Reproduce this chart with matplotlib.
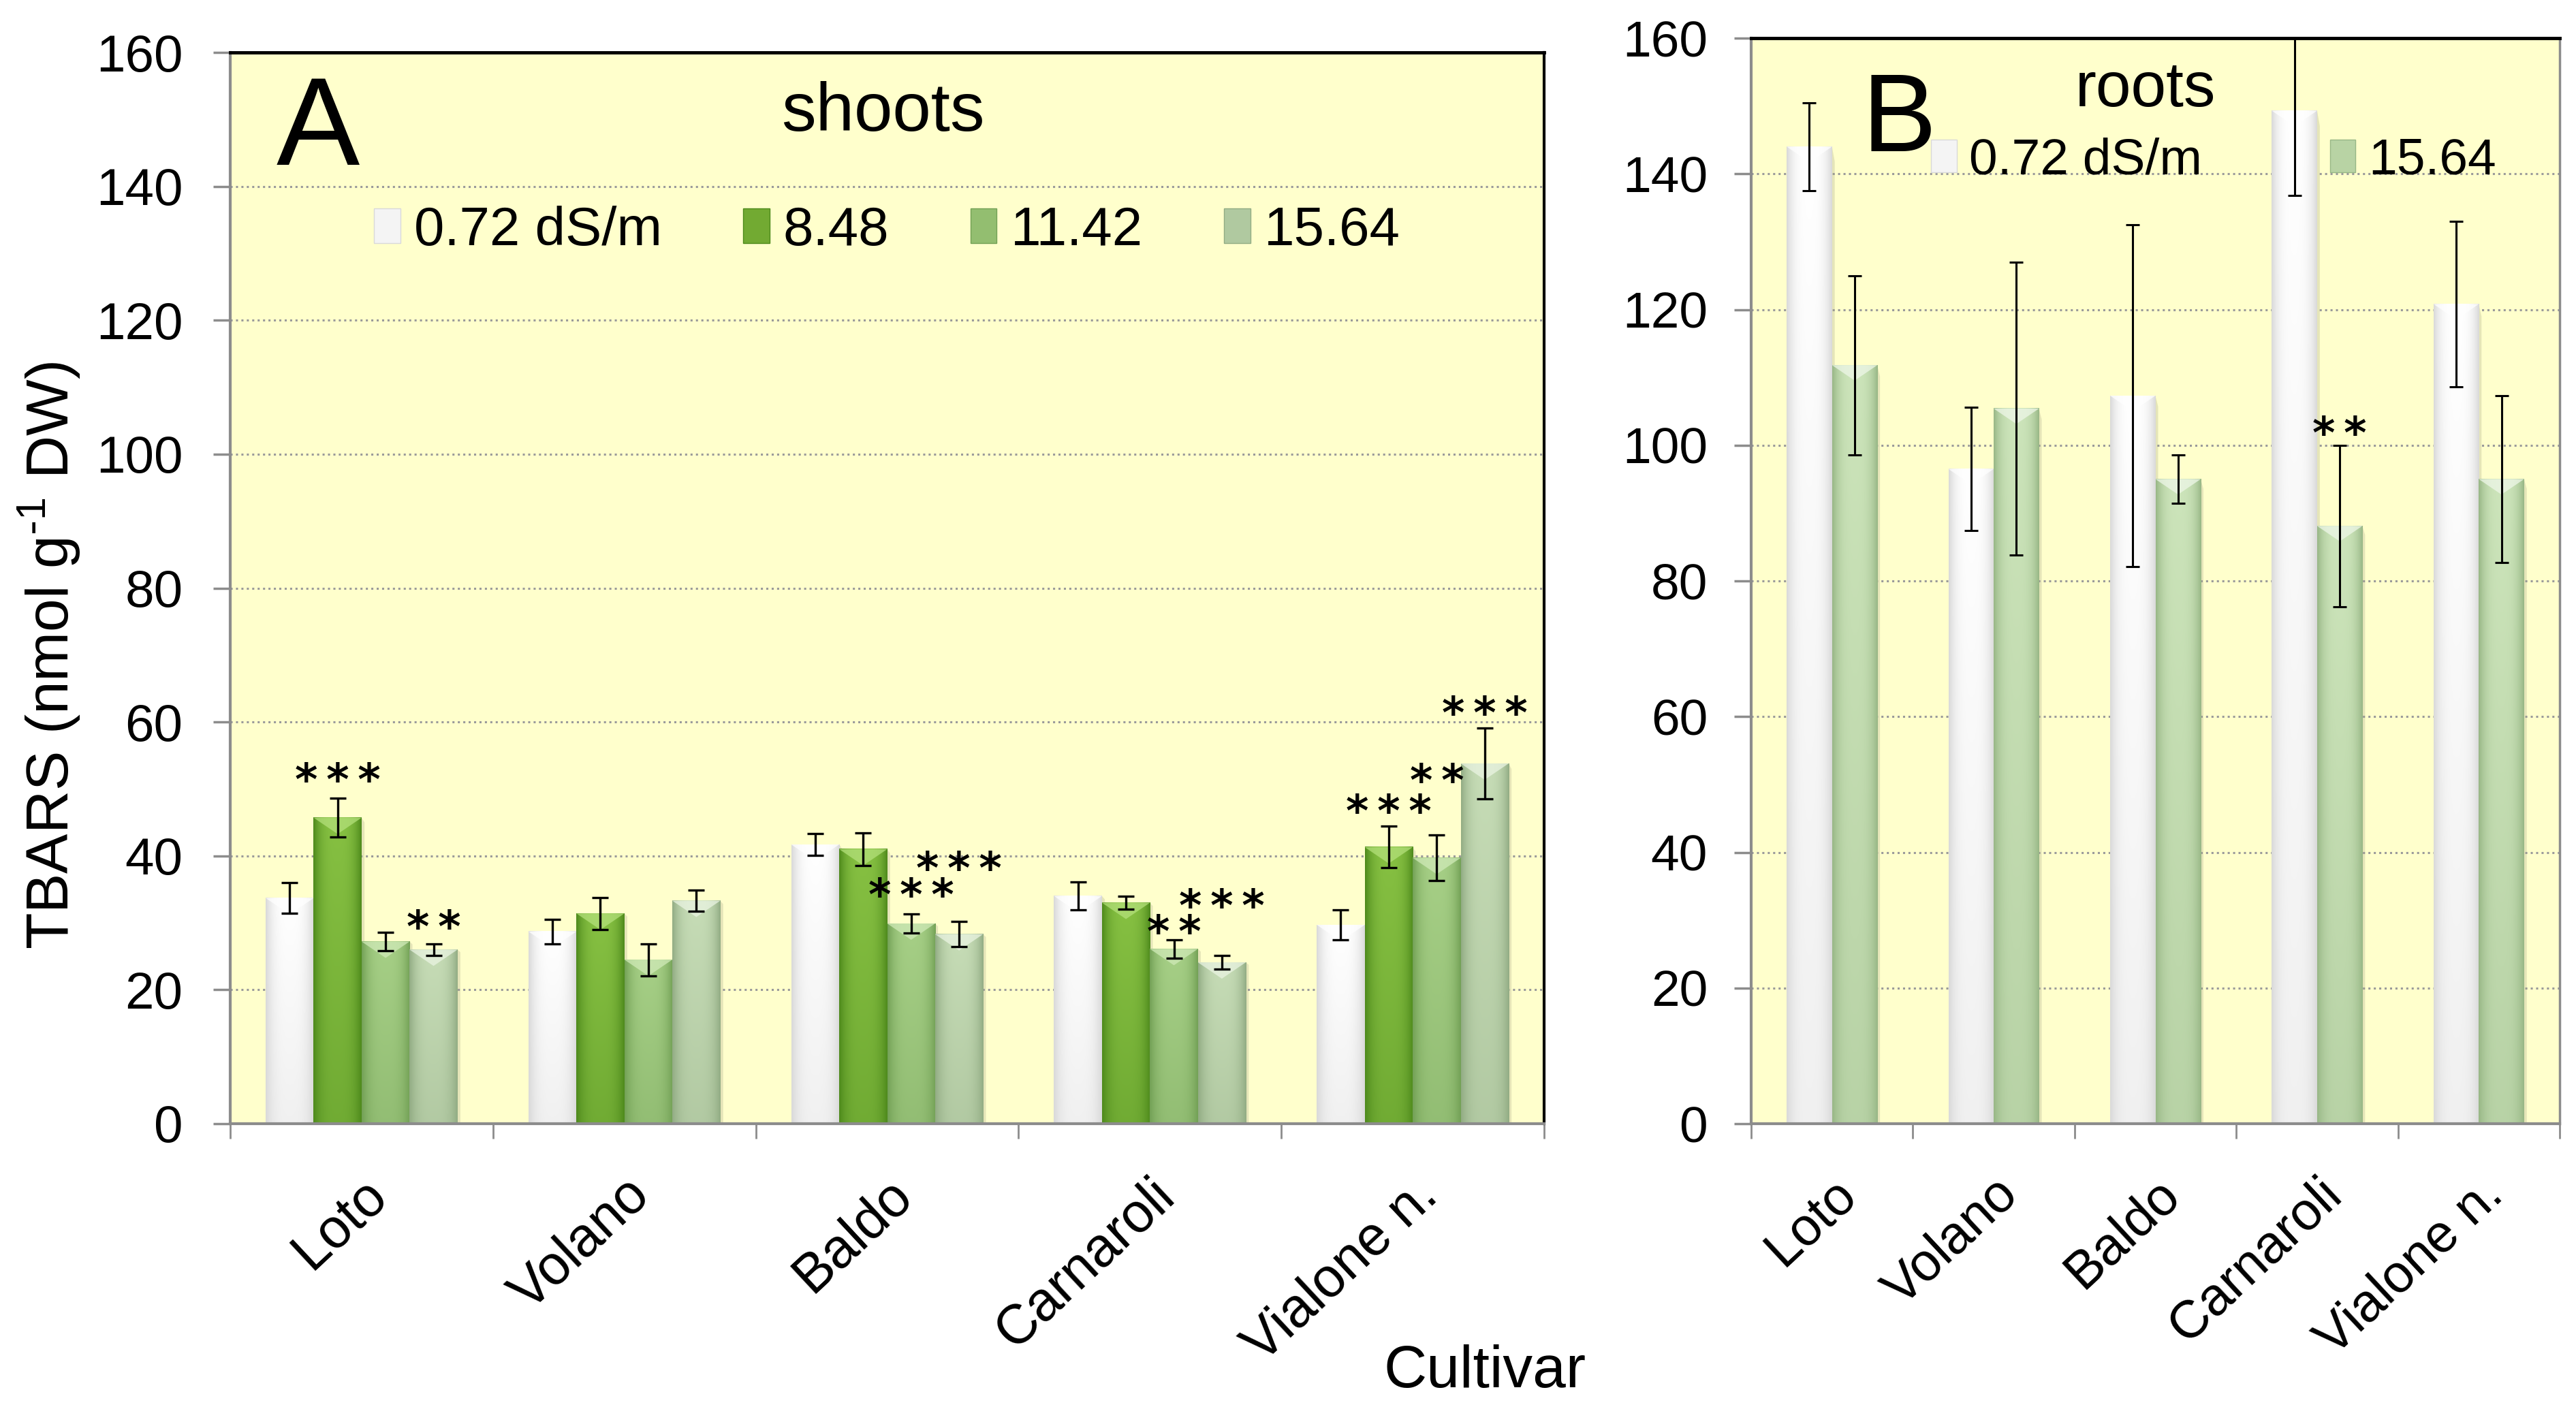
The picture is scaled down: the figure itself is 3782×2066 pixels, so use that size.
import numpy as np
import matplotlib
matplotlib.use("Agg")
import matplotlib.pyplot as plt
from matplotlib.patches import Patch, Polygon
from matplotlib.colors import to_rgb

plt.rcParams['font.family'] = ['Liberation Sans', 'DejaVu Sans']
plt.rcParams['mathtext.default'] = 'regular'

# ---------------- data ----------------
cultivars = ["Loto", "Volano", "Baldo", "Carnaroli", "Vialone n."]
levels_A = ["0.72 dS/m", "8.48", "11.42", "15.64"]
levels_B = ["0.72 dS/m", "15.64"]

shoots_072 = [33.7, 28.7, 41.7, 34.0, 29.7]
shoots_848 = [45.7, 31.4, 41.0, 33.0, 41.3]
shoots_1142 = [27.2, 24.5, 29.9, 26.1, 39.7]
shoots_1564 = [26.0, 33.3, 28.3, 24.1, 53.8]
shoots_err_072 = [2.3, 1.8, 1.6, 2.1, 2.2]
shoots_err_848 = [2.9, 2.4, 2.4, 1.0, 3.1]
shoots_err_1142 = [1.4, 2.4, 1.4, 1.4, 3.4]
shoots_err_1564 = [0.85, 1.6, 1.9, 1.0, 5.3]
shoots_sig_848 = ["***", "", "", "", "***"]
shoots_sig_1142 = ["", "", "***", "**", "**"]
shoots_sig_1564 = ["**", "", "***", "***", "***"]

roots_072 = [144.0, 96.5, 107.3, 149.3, 120.8]
roots_1564 = [111.8, 105.4, 95.0, 88.1, 95.0]
roots_err_072 = [6.5, 9.1, 25.2, 12.5, 12.2]
roots_err_1564 = [13.2, 21.6, 3.6, 11.9, 12.3]
roots_sig_1564 = ["", "", "", "**", ""]

# ---------------- layout / style ----------------
W, H, DPI = 3782, 2066, 100
fig = plt.figure(figsize=(W / DPI, H / DPI), dpi=DPI)
fig.patch.set_facecolor('white')

posA = [338 / W, 1 - 1650 / H, (2267 - 338) / W, (1650 - 77) / H]
posB = [2571 / W, 1 - 1650 / H, (3758 - 2571) / W, (1650 - 56) / H]
axA = fig.add_axes(posA)
axB = fig.add_axes(posB)

BG = '#FFFFCC'
styles = {
    "0.72": dict(dark='#D9D9D9', light='#FFFFFF', tip='#FFFFFF', mid='#F4F4F4'),
    "8.48": dict(dark='#4E8A1C', light='#86C042', tip='#B3E07A', mid='#72AA32'),
    "11.42": dict(dark='#73A156', light='#A6CF86', tip='#D0EAB8', mid='#93BE70'),
    "15.64": dict(dark='#92AC84', light='#C6DCB6', tip='#EAF4E2', mid='#B0C9A0'),
    "15.64B": dict(dark='#98B786', light='#CCE4BA', tip='#EEF7E8', mid='#B8D3A4'),
}
# star offsets (data units, star centre above error-bar top)
star_gap_A = {"8.48": [4.4, 0, 0, 0, 4.0],
              "11.42": [0, 0, 4.5, 2.8, 9.8],
              "15.64": [4.2, 0, 9.6, 9.1, 3.9]}
star_gap_B = [0, 0, 0, 3.4, 0]
STAR_FONT = ['DejaVu Sans']
star_fs = 46

YMAX = 160


def px_per_unit(ax):
    bb = ax.get_position()
    return bb.height * H / YMAX, bb.width * W / (ax.get_xlim()[1] - ax.get_xlim()[0])


def paint(ax, bars, st):
    dark = np.array(to_rgb(st['dark']))
    light = np.array(to_rgb(st['light']))
    tip = st['tip']
    pyu, pxu = px_per_unit(ax)
    u = np.linspace(0, 1, 80)
    v = np.linspace(0, 1, 80)
    hx = 1 - np.abs(2 * u - 1) ** 3
    t = hx[None, :] * (0.62 + 0.38 * v[:, None])
    img = dark + (light - dark) * t[..., None]
    for r in bars:
        x0, w, h = r.get_x(), r.get_width(), r.get_height()
        if h <= 0:
            continue
        ax.imshow(img, extent=(x0, x0 + w, 0, h), origin='lower', aspect='auto',
                  zorder=2, interpolation='bilinear')
        depth = 0.34 * w * pxu / pyu
        ax.add_patch(Polygon([(x0, h), (x0 + w, h), (x0 + w / 2, h - depth)],
                             closed=True, facecolor=tip, edgecolor='none',
                             alpha=0.75, zorder=2.1))
        ax.add_patch(Polygon([(x0 + w, 0), (x0 + w * 1.06, 0), (x0 + w * 1.06, h * 0.985),
                              (x0 + w, h)], closed=True, facecolor='#9A9A80',
                             edgecolor='none', alpha=0.25, zorder=1.9))


def stars(ax, x, yc, s, pyu):
    shift = 0.60 * star_fs * DPI / 72 / pyu
    ax.text(x, yc - shift, "\u2009".join(s), ha='center', va='baseline',
            fontsize=star_fs, family=STAR_FONT, fontweight='bold',
            color='black', zorder=4)


def style_axes(ax, ylab_pad, tick_fs, xlab_fs):
    ax.set_facecolor(BG)
    ax.set_ylim(0, YMAX)
    ax.set_xlim(-0.5, len(cultivars) - 0.5)
    ax.set_yticks(np.arange(0, 161, 20))
    ax.set_xticks(np.arange(-0.5, len(cultivars), 1.0))
    ax.set_xticklabels([])
    ax.set_xticks(np.arange(len(cultivars)), minor=True)
    ax.set_xticklabels(cultivars, minor=True, rotation=43, ha='right',
                       rotation_mode='anchor', fontsize=xlab_fs)
    ax.tick_params(axis='x', which='minor', length=0, pad=48)
    ax.tick_params(axis='x', which='major', length=16, width=2, color='#8C8C8C')
    ax.tick_params(axis='y', which='major', length=18, width=2.5, color='#8C8C8C',
                   labelsize=tick_fs, pad=ylab_pad)
    ax.yaxis.grid(True, linestyle=(0, (1, 1.6)), color='#9A9A9A', linewidth=2.2)
    ax.set_axisbelow(True)
    for s in ['left', 'bottom']:
        ax.spines[s].set_color('#8C8C8C')
        ax.spines[s].set_linewidth(3)
    ax.spines['top'].set_color('black')
    ax.spines['top'].set_linewidth(3.5)


# ---------------- panel A ----------------
style_axes(axA, 32, 55, 58)
axA.spines['right'].set_color('black')
axA.spines['right'].set_linewidth(3)

xA = np.arange(len(cultivars))
wA = 0.1825
seriesA = [(shoots_072, shoots_err_072, "0.72", None),
           (shoots_848, shoots_err_848, "8.48", shoots_sig_848),
           (shoots_1142, shoots_err_1142, "11.42", shoots_sig_1142),
           (shoots_1564, shoots_err_1564, "15.64", shoots_sig_1564)]
pyuA, _ = px_per_unit(axA)
for k, (vals, errs, key, sig) in enumerate(seriesA):
    xs = xA + (k - 1.5) * wA
    st = styles[key]
    bars = axA.bar(xs, vals, wA, color=st['mid'], edgecolor='none', zorder=1.95)
    paint(axA, bars, st)
    axA.errorbar(xs, vals, yerr=errs, fmt='none', ecolor='black', elinewidth=2.4,
                 capsize=8.5, capthick=2.4, zorder=3)
    if sig:
        for i, s in enumerate(sig):
            if s:
                stars(axA, xs[i], vals[i] + errs[i] + star_gap_A[key][i], s, pyuA)

axA.set_xlim(-0.5, len(cultivars) - 0.5)
axA.set_ylim(0, YMAX)
axA.text(0.035, 0.895, "A", transform=axA.transAxes, fontsize=132, ha='left',
         va='baseline')
axA.text(0.4966, 0.927, "shoots", transform=axA.transAxes, fontsize=73,
         ha='center', va='baseline')
handlesA = [Patch(facecolor=styles[k]['mid'], edgecolor=styles[k]['dark'], linewidth=1)
            for k in ["0.72", "8.48", "11.42", "15.64"]]
axA.legend(handlesA, levels_A, loc='center', bbox_to_anchor=(0.5, 0.8334), ncol=4,
           frameon=False, fontsize=57.5, handlelength=0.48, handleheight=0.6,
           handletextpad=0.25, columnspacing=1.5, borderpad=0)

# ---------------- panel B ----------------
style_axes(axB, 28, 54, 56)
axB.spines['right'].set_color('#8C8C8C')
axB.spines['right'].set_linewidth(2.5)

wB = 0.28
seriesB = [(roots_072, roots_err_072, "0.72", None),
           (roots_1564, roots_err_1564, "15.64B", roots_sig_1564)]
pyuB, _ = px_per_unit(axB)
for k, (vals, errs, key, sig) in enumerate(seriesB):
    xs = xA + (k - 0.5) * wB
    st = styles[key]
    bars = axB.bar(xs, vals, wB, color=st['mid'], edgecolor='none', zorder=1.95)
    paint(axB, bars, st)
    axB.errorbar(xs, vals, yerr=errs, fmt='none', ecolor='black', elinewidth=2.2,
                 capsize=7.5, capthick=2.2, zorder=3)
    if sig:
        for i, s in enumerate(sig):
            if s:
                stars(axB, xs[i], vals[i] + errs[i] + star_gap_B[i], s, pyuB)

axB.set_xlim(-0.5, len(cultivars) - 0.5)
axB.set_ylim(0, YMAX)
axB.text(0.1365, 0.896, "B", transform=axB.transAxes, fontsize=118, ha='left',
         va='baseline')
axB.text(0.488, 0.937, "roots", transform=axB.transAxes, fontsize=67,
         ha='center', va='baseline')
handlesB = [Patch(facecolor=styles[k]['mid'], edgecolor=styles[k]['dark'], linewidth=1)
            for k in ["0.72", "15.64B"]]
axB.legend(handlesB, levels_B, loc='center', bbox_to_anchor=(0.572, 0.887), ncol=2,
           frameon=False, fontsize=54, handlelength=0.5, handleheight=0.6,
           handletextpad=0.25, columnspacing=2.5, borderpad=0)

# ---------------- axis titles ----------------
fig.text(73 / W, 1 - 963 / H, "TBARS (nmol g$^{\\text{-}1}$ DW)", rotation=90,
         ha='center', va='center', fontsize=63)
fig.text(2180 / W, 1 - 2037 / H, "Cultivar", ha='center', va='baseline', fontsize=63)

fig.savefig("out.png", dpi=DPI, facecolor='white')
